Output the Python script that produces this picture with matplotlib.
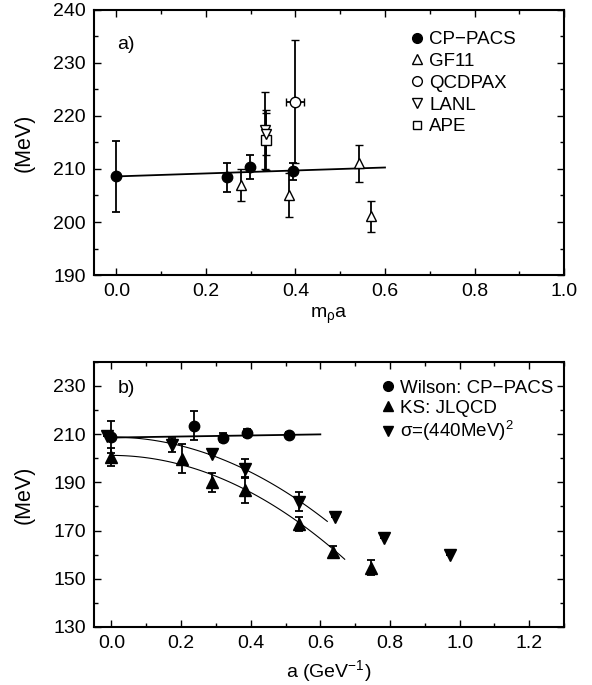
import numpy as np
import matplotlib
matplotlib.use("Agg")
import matplotlib.pyplot as plt
from matplotlib.lines import Line2D
from matplotlib.ticker import MultipleLocator, FormatStrFormatter

plt.rcParams['font.family'] = ['Liberation Sans', 'DejaVu Sans']
plt.rcParams['mathtext.fontset'] = 'custom'
plt.rcParams['mathtext.rm'] = 'Liberation Sans'
plt.rcParams['mathtext.it'] = 'Liberation Sans'

# ---- panel a) : vs m_rho a ----
cp_x = [0.0, 0.247, 0.299, 0.394]
cp_y = [208.6, 208.4, 210.4, 209.6]
cp_err = [6.7, 2.7, 2.3, 1.6]
cp_fit = [208.6, 2.8]          # y = c0 + c1*x, 0 .. 0.6

gf_x = [0.278, 0.386, 0.541, 0.568]
gf_y = [207.0, 205.1, 211.1, 201.1]
gf_err = [3.0, 4.1, 3.5, 2.9]

qcd_x = [0.399]
qcd_y = [222.7]
qcd_err = [11.6]
qcd_xerr = [0.02]

lanl_x = [0.331, 0.335]
lanl_y = [217.3, 216.6]
lanl_err = [7.3, 4.0]

ape_x = [0.334]
ape_y = [215.5]
ape_err = [5.7]

# ---- panel b) : vs a (GeV^-1) ----
w_x = [0.0, 0.238, 0.321, 0.388, 0.509]
w_y = [208.8, 213.5, 208.6, 210.4, 209.7]
w_err = [6.8, 6.0, 2.0, 1.6, 1.0]
w_fit = [208.6, 2.2]

ks_x = [0.0, 0.204, 0.289, 0.383, 0.538, 0.637, 0.745]
ks_y = [200.5, 199.8, 190.0, 186.8, 172.7, 161.2, 154.6]
ks_err = [3.8, 6.0, 4.0, 5.5, 3.0, 2.5, 3.2]
ks_fit = [201.2, -96.0]         # y = c0 + c2*x^2, 0 .. 0.67

sg_x = [-0.012, 0.173, 0.288, 0.383, 0.538, 0.643, 0.783, 0.973]
sg_y = [209.2, 205.6, 201.9, 195.7, 182.0, 175.8, 166.9, 159.8]
sg_err = [0, 3.0, 0, 4.0, 4.0, 0, 0, 0]
sg_fit = [208.8, -91.0]         # 0 .. 0.62

fig = plt.figure(figsize=(5.92, 6.85), dpi=100)
ax1 = fig.add_axes([0.1588, 0.5985, 0.794, 0.387])
ax2 = fig.add_axes([0.1588, 0.0847, 0.794, 0.387])

ms = 7.5
eb = dict(ls='none', ecolor='k', elinewidth=1.3, capsize=2.6, capthick=1.3)
fs = 14


def style(ax):
    for s in ax.spines.values():
        s.set_linewidth(1.5)
    ax.tick_params(which='both', direction='in', top=True, right=True,
                   labelsize=fs, width=1.0)
    ax.tick_params(which='major', length=5, pad=6)
    ax.tick_params(which='minor', length=3)
    ax.xaxis.set_major_locator(MultipleLocator(0.2))
    ax.xaxis.set_minor_locator(MultipleLocator(0.1))
    ax.xaxis.set_major_formatter(FormatStrFormatter('%.1f'))


# panel a
xx = np.linspace(0, 0.6, 50)
ax1.plot(xx, cp_fit[0] + cp_fit[1] * xx, color='k', lw=1.3, zorder=2)
ax1.errorbar(qcd_x, qcd_y, yerr=qcd_err, xerr=qcd_xerr, fmt='o', ms=ms,
             mfc='white', mec='k', mew=1.0, zorder=3, **eb)
ax1.errorbar(ape_x, ape_y, yerr=ape_err, fmt='s', ms=6.5, mfc='white',
             mec='k', mew=1.0, zorder=3, **eb)
ax1.errorbar(lanl_x, lanl_y, yerr=lanl_err, fmt='v', ms=ms, mfc='white',
             mec='k', mew=1.0, zorder=3, **eb)
ax1.errorbar(gf_x, gf_y, yerr=gf_err, fmt='^', ms=ms, mfc='white',
             mec='k', mew=1.0, zorder=3, **eb)
ax1.errorbar(cp_x, cp_y, yerr=cp_err, fmt='o', ms=ms, mfc='k', mec='k',
             zorder=4, **eb)

ax1.set_xlim(-0.05, 1.0)
ax1.set_ylim(190, 240)
ax1.yaxis.set_major_locator(MultipleLocator(10))
ax1.yaxis.set_minor_locator(MultipleLocator(5))
style(ax1)
ax1.set_ylabel('(MeV)', fontsize=15.5, labelpad=13)
ax1.set_xlabel(r'm$_\rho$a', fontsize=14, labelpad=4)
ax1.text(0.05, 0.87, 'a)', transform=ax1.transAxes, fontsize=fs,
         va='center', ha='left')

h1 = [Line2D([], [], ls='none', marker='o', ms=7, mfc='k', mec='k'),
      Line2D([], [], ls='none', marker='^', ms=7, mfc='white', mec='k'),
      Line2D([], [], ls='none', marker='o', ms=7, mfc='white', mec='k'),
      Line2D([], [], ls='none', marker='v', ms=7, mfc='white', mec='k'),
      Line2D([], [], ls='none', marker='s', ms=6, mfc='white', mec='k')]
ax1.legend(h1, ['CP\u2212PACS', 'GF11', 'QCDPAX', 'LANL', 'APE'],
           loc='upper left', bbox_to_anchor=(0.655, 0.949), frameon=False,
           fontsize=13.5, handlelength=0.8, handletextpad=0.25,
           labelspacing=0.25, borderaxespad=0)

# panel b
xw = np.linspace(0, 0.6, 50)
ax2.plot(xw, w_fit[0] + w_fit[1] * xw, color='k', lw=1.3, zorder=2)
xk = np.linspace(0, 0.67, 80)
ax2.plot(xk, ks_fit[0] + ks_fit[1] * xk ** 2, color='k', lw=0.8, zorder=2)
xs = np.linspace(0, 0.62, 80)
ax2.plot(xs, sg_fit[0] + sg_fit[1] * xs ** 2, color='k', lw=0.8, zorder=2)

ax2.errorbar(sg_x, sg_y, yerr=sg_err, fmt='v', ms=ms + 0.5, mfc='k',
             mec='k', zorder=3, **eb)
ax2.errorbar(ks_x, ks_y, yerr=ks_err, fmt='^', ms=ms + 0.5, mfc='k',
             mec='k', zorder=3, **eb)
ax2.errorbar(w_x, w_y, yerr=w_err, fmt='o', ms=ms, mfc='k', mec='k',
             zorder=4, **eb)

ax2.set_xlim(-0.05, 1.3)
ax2.set_ylim(130, 240)
ax2.set_yticks([130, 150, 170, 190, 210, 230])
ax2.yaxis.set_minor_locator(MultipleLocator(10))
style(ax2)
ax2.set_ylabel('(MeV)', fontsize=15.5, labelpad=13)
ax2.set_xlabel(r'a (GeV$^{-1}$)', fontsize=14, labelpad=4)
ax2.text(0.05, 0.90, 'b)', transform=ax2.transAxes, fontsize=fs,
         va='center', ha='left')

h2 = [Line2D([], [], ls='none', marker='o', ms=7, mfc='k', mec='k'),
      Line2D([], [], ls='none', marker='^', ms=7.5, mfc='k', mec='k'),
      Line2D([], [], ls='none', marker='v', ms=7.5, mfc='k', mec='k')]
ax2.legend(h2, ['Wilson: CP\u2212PACS', 'KS: JLQCD', r'$\sigma$=(440MeV)$^2$'],
           loc='upper left', bbox_to_anchor=(0.594, 0.962), frameon=False,
           fontsize=13.5, handlelength=0.8, handletextpad=0.25,
           labelspacing=0.15, borderaxespad=0)

fig.savefig('out.png', dpi=100)
